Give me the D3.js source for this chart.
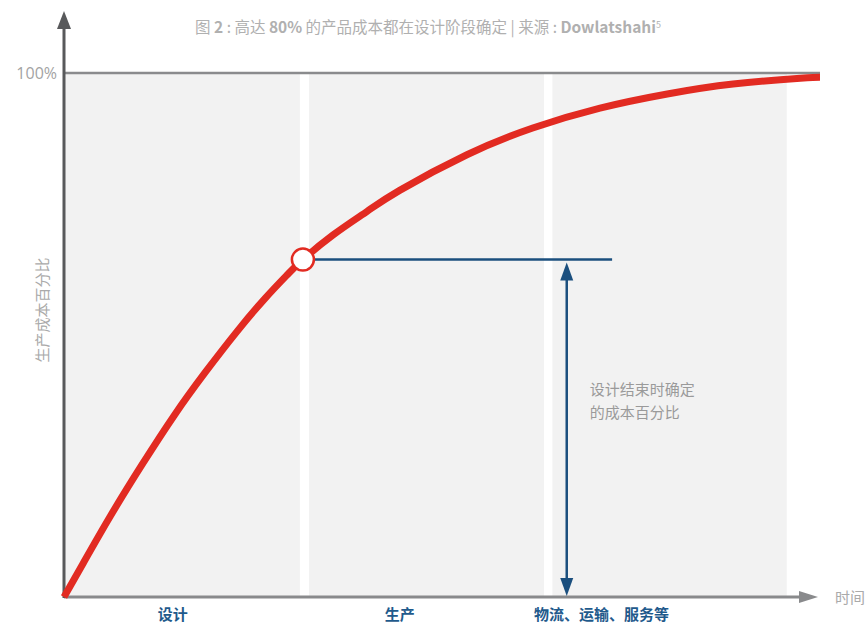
<!DOCTYPE html>
<html><head><meta charset="utf-8">
<script src="https://cdn.jsdelivr.net/npm/d3@7"></script>
<style>
html,body{margin:0;padding:0;background:#fff;}
svg{display:block;font-family:"Noto Sans CJK SC","Noto Sans",sans-serif;}
</style></head>
<body><svg id="c" width="868" height="626"></svg>
<script>
// ---- data ----
const curveTime = [0, 2.6, 6.2, 10.3, 14.6, 18.7, 22.9, 26.6, 29.6, 31.6, 35.6, 40.1, 44.4, 53.3, 62.0, 70.9, 79.8, 88.5, 97.4, 100];
const curveCost = [0, 6.6, 15.6, 25.2, 34.7, 42.9, 50.7, 57.0, 61.6, 64.4, 69.1, 73.6, 77.6, 84.4, 89.5, 93.3, 96.0, 97.9, 99.0, 99.2];
const phaseNames = ["设计", "生产", "物流、运输、服务等"];
const phaseStart = [0, 32.4, 64.6];
const phaseEnd = [31.2, 63.5, 95.6];
const phaseLabelTime = [14.4, 44.4, 71.1];
const designEnd = {time: 31.6, cost: 64.4};
const refLineEnd = 72.5;
const arrowTime = 66.5;
const yTicks = [100];
const titleParts = [["图 ", false], ["2", true], [" : 高达 ", false], ["80%", true], [" 的产品成本都在设计阶段确定 | 来源 : ", false], ["Dowlatshahi", true]];
const yLabel = "生产成本百分比";
const xLabel = "时间";
const noteLines = ["设计结束时确定", "的成本百分比"];

// ---- layout ----
const svg = d3.select("#c");
const x = d3.scaleLinear().domain([0, 100]).range([64, 820]);
const y = d3.scaleLinear().domain([0, 100]).range([597, 73]);
const red = "#e22b22", blue = "#1b4f7e";

// bands
svg.append("g").selectAll("rect").data(phaseNames).join("rect")
  .attr("x", (d,i) => x(phaseStart[i]))
  .attr("width", (d,i) => x(phaseEnd[i]) - x(phaseStart[i]))
  .attr("y", y(100)).attr("height", y(0) - y(100))
  .attr("fill", "#f2f2f2");

// 100% gridline + tick label
svg.append("g").selectAll("line").data(yTicks).join("line")
  .attr("x1", x(0)).attr("x2", x(100))
  .attr("y1", d => y(d)).attr("y2", d => y(d))
  .attr("stroke", "#8a8b8d").attr("stroke-width", 2.5);
const yAxis = svg.append("g").attr("transform", `translate(${x(0)-7},0)`)
  .call(d3.axisLeft(y).tickValues(yTicks).tickFormat(d => d + "%").tickSize(0));
yAxis.select(".domain").remove();
yAxis.selectAll("text").attr("font-size", 16).attr("fill", "#a3a3a3")
  .attr("font-family", "'Open Sans','Noto Sans',sans-serif").attr("dy", "0.35em").attr("x", 0);

// x axis with arrow
svg.append("line").attr("x1", x(0)).attr("x2", 800).attr("y1", y(0)).attr("y2", y(0))
  .attr("stroke", "#898a8c").attr("stroke-width", 3);
svg.append("path").attr("d", `M799,${y(0)-6}L818,${y(0)}L799,${y(0)+6}Z`).attr("fill", "#898a8c");

// y axis with arrow
svg.append("line").attr("x1", x(0)).attr("x2", x(0)).attr("y1", y(0)+1).attr("y2", 28)
  .attr("stroke", "#58595b").attr("stroke-width", 3);
svg.append("path").attr("d", `M${x(0)-7},29L${x(0)},11L${x(0)+7},29Z`).attr("fill", "#58595b");

// reference horizontal line
svg.append("line").attr("x1", x(designEnd.time)).attr("x2", x(refLineEnd))
  .attr("y1", y(designEnd.cost)).attr("y2", y(designEnd.cost))
  .attr("stroke", blue).attr("stroke-width", 2.5);

// double arrow
const ax = x(arrowTime), aTop = y(designEnd.cost) + 3, aBot = y(0) - 1;
svg.append("line").attr("x1", ax).attr("x2", ax).attr("y1", aTop + 14).attr("y2", aBot - 14)
  .attr("stroke", blue).attr("stroke-width", 2.5);
svg.append("path").attr("d", `M${ax-6.5},${aTop+18}L${ax},${aTop}L${ax+6.5},${aTop+18}Z`).attr("fill", blue);
svg.append("path").attr("d", `M${ax-6.5},${aBot-18}L${ax},${aBot}L${ax+6.5},${aBot-18}Z`).attr("fill", blue);

// curve
const pts = curveTime.map((t,i) => [t, curveCost[i]]);
svg.append("path").datum(pts)
  .attr("d", d3.line().x(d => x(d[0])).y(d => y(d[1])).curve(d3.curveNatural))
  .attr("fill", "none").attr("stroke", red).attr("stroke-width", 7);

// marker
svg.append("circle").attr("cx", x(designEnd.time)).attr("cy", y(designEnd.cost)).attr("r", 11)
  .attr("fill", "#fff").attr("stroke", red).attr("stroke-width", 2.5);

// note text
svg.append("g").selectAll("text").data(noteLines).join("text")
  .attr("x", ax + 23).attr("y", (d,i) => 390 + i*23).attr("dy", "0.35em")
  .attr("font-size", 15).attr("fill", "#9a9a9a").text(d => d);

// phase labels
svg.append("g").selectAll("text").data(phaseNames).join("text")
  .attr("x", (d,i) => x(phaseLabelTime[i])).attr("y", 615).attr("dy", "0.35em")
  .attr("text-anchor", "middle").attr("font-size", 15).attr("font-weight", "bold")
  .attr("fill", "#1f5a8c").text(d => d);

// axis labels
svg.append("text").attr("transform", "translate(43,310) rotate(-90)")
  .attr("text-anchor", "middle").attr("dy", "0.35em")
  .attr("font-size", 15).attr("fill", "#aaa").text(yLabel);
svg.append("text").attr("x", 835).attr("y", 598).attr("dy", "0.35em")
  .attr("font-size", 15).attr("fill", "#aaa").text(xLabel);

// title
const title = svg.append("text").attr("x", 428).attr("y", 28).attr("dy", "0.35em")
  .attr("text-anchor", "middle").attr("font-size", 15.5).attr("fill", "#b0b0b0");
title.selectAll("tspan.p").data(titleParts).join("tspan").attr("class", "p")
  .attr("font-weight", d => d[1] ? "bold" : "normal").text(d => d[0]);
title.append("tspan").attr("font-size", 9).attr("dy", "-0.6em").text("5");
</script></body></html>
